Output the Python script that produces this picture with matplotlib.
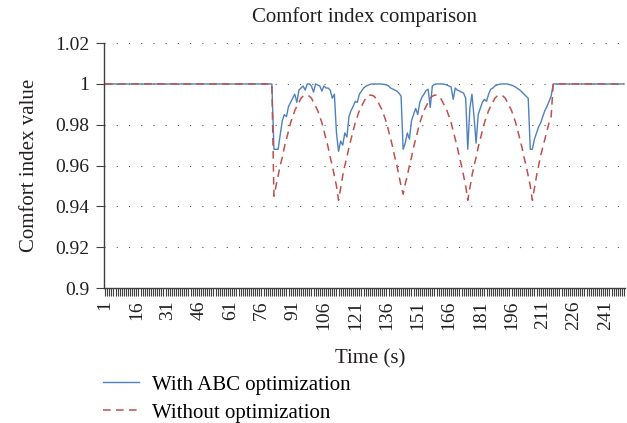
import matplotlib
matplotlib.use('Agg')
import matplotlib.pyplot as plt
from matplotlib.transforms import ScaledTranslation

plt.rcParams['font.family'] = ['Liberation Serif', 'DejaVu Serif']

# time axis (s), one category per second
time = list(range(1, 251))
tick_labels = ['1', '16', '31', '46', '61', '76', '91', '106', '121', '136', '151',
               '166', '181', '196', '211', '226', '241']

# flat parts before and after the active window (read as 1.0)
lead = [1.0] * 81
tail = [1.0] * 35

with_abc_mid = [
    # 82-112
    0.968, 0.968, 0.968, 0.975, 0.982, 0.985, 0.984, 0.989, 0.991, 0.993,
    0.995, 0.991, 0.997, 0.998, 0.999, 0.997, 1.000, 1.000, 0.999, 0.996,
    1.000, 0.9995, 0.999, 0.9965, 0.999, 0.998, 0.998, 0.997, 0.993, 0.995,
    0.976,
    # 113-143
    0.967, 0.972, 0.970, 0.976, 0.974, 0.984, 0.987, 0.989, 0.9915, 0.991,
    0.995, 0.9965, 0.998, 0.9988, 0.9993, 0.9998, 1.000, 1.000, 1.000, 1.000,
    1.000, 0.9999, 0.9998, 0.9995, 0.999, 0.998, 0.9975, 0.997, 0.9965, 0.9955,
    0.994,
    # 144-174
    0.968, 0.971, 0.976, 0.973, 0.982, 0.985, 0.988, 0.985, 0.991, 0.9935,
    0.995, 0.9968, 0.9974, 0.9885, 0.999, 0.9998, 1.000, 1.000, 1.000, 1.000,
    0.9998, 0.9995, 0.999, 0.9985, 0.9925, 0.998, 0.997, 0.9966, 0.996, 0.9955,
    0.993,
    # 175-204
    0.968, 0.988, 0.995, 0.984, 0.971, 0.985, 0.988, 0.991, 0.9925, 0.9915,
    0.995, 0.9974, 0.998, 0.999, 0.9995, 0.9998, 1.000, 1.000, 1.000, 1.000,
    0.9997, 0.9994, 0.999, 0.9984, 0.9977, 0.997, 0.996, 0.995, 0.994, 0.993,
    # 205-215
    0.968, 0.968, 0.973, 0.976, 0.979, 0.981, 0.984, 0.987, 0.989, 0.9915,
    0.994,
]

without_mid = [
    # 82-112
    0.945, 0.950, 0.955, 0.960, 0.964, 0.969, 0.973, 0.977, 0.981, 0.984,
    0.987, 0.989, 0.991, 0.993, 0.994, 0.9945, 0.9945, 0.994, 0.993, 0.991,
    0.989, 0.987, 0.984, 0.981, 0.977, 0.973, 0.969, 0.964, 0.960, 0.955,
    0.950,
    # 113-143
    0.943, 0.949, 0.955, 0.960, 0.964, 0.969, 0.973, 0.977, 0.981, 0.984,
    0.987, 0.989, 0.991, 0.993, 0.994, 0.9945, 0.9945, 0.994, 0.993, 0.991,
    0.989, 0.987, 0.984, 0.981, 0.977, 0.973, 0.969, 0.964, 0.960, 0.955,
    0.950,
    # 144-174
    0.946, 0.951, 0.955, 0.960, 0.964, 0.969, 0.973, 0.977, 0.981, 0.984,
    0.987, 0.989, 0.991, 0.993, 0.994, 0.9945, 0.9945, 0.994, 0.993, 0.991,
    0.989, 0.987, 0.984, 0.981, 0.977, 0.973, 0.969, 0.964, 0.960, 0.955,
    0.950,
    # 175-205
    0.943, 0.949, 0.955, 0.960, 0.964, 0.969, 0.973, 0.977, 0.981, 0.984,
    0.987, 0.989, 0.991, 0.993, 0.994, 0.9945, 0.9945, 0.994, 0.993, 0.991,
    0.989, 0.987, 0.984, 0.981, 0.977, 0.973, 0.969, 0.964, 0.960, 0.955,
    0.950,
    # 206-215
    0.943, 0.949, 0.955, 0.960, 0.965, 0.969, 0.973, 0.977, 0.981, 0.984,
]

with_abc = lead + with_abc_mid + tail
without = lead + without_mid + tail

txt = '#231f20'
fig = plt.figure(figsize=(6.27, 4.23), dpi=100)
ax = fig.add_axes([0.166, 0.319, 0.831, 0.579])

ax.plot(time, with_abc, color='#4f81bd', lw=1.0, label='With ABC optimization')
ax.plot(time, without, color='#c0504d', lw=1.1, linestyle=(0, (5, 3.5)),
        label='Without optimization')

ax.set_xlim(0.5, 250.5)
ax.set_ylim(0.9, 1.02)
ax.set_yticks([0.9, 0.92, 0.94, 0.96, 0.98, 1.0, 1.02])
ax.set_yticklabels(['0.9', '0.92', '0.94', '0.96', '0.98', '1', '1.02'])
for v in [0.92, 0.94, 0.96, 0.98, 1.0, 1.02]:
    ax.axhline(v, color='#555555', lw=0.8, linestyle=(0, (1, 10)), zorder=0)

ax.set_xticks(time)
ax.set_xticklabels([str(t) if str(t) in tick_labels else '' for t in time],
                   rotation=90)
offset = ScaledTranslation(6 / 100, 0, fig.dpi_scale_trans)
for lab in ax.get_xticklabels():
    lab.set_transform(lab.get_transform() + offset)

ax.tick_params(axis='both', direction='out', length=6, width=0.8,
               color='#404040', labelsize=14, labelcolor=txt)
ax.tick_params(axis='x', pad=3)
ax.tick_params(axis='y', pad=4.5)
for side in ['top', 'right']:
    ax.spines[side].set_visible(False)
for side in ['left', 'bottom']:
    ax.spines[side].set_color('#404040')
    ax.spines[side].set_linewidth(1.0)

ax.set_title('Comfort index comparison', fontsize=15, color=txt, pad=15)
ax.set_ylabel('Comfort index value', fontsize=15, color=txt, labelpad=12)
ax.set_xlabel('Time (s)', fontsize=15, color=txt)
ax.xaxis.set_label_coords(0.51, -0.25)

fig.legend(loc='upper left', bbox_to_anchor=(0.164, 0.113), frameon=False,
           fontsize=15, handlelength=1.75, handletextpad=0.6, labelspacing=0.4,
           borderaxespad=0, borderpad=0)

fig.savefig('out.png', dpi=100)
